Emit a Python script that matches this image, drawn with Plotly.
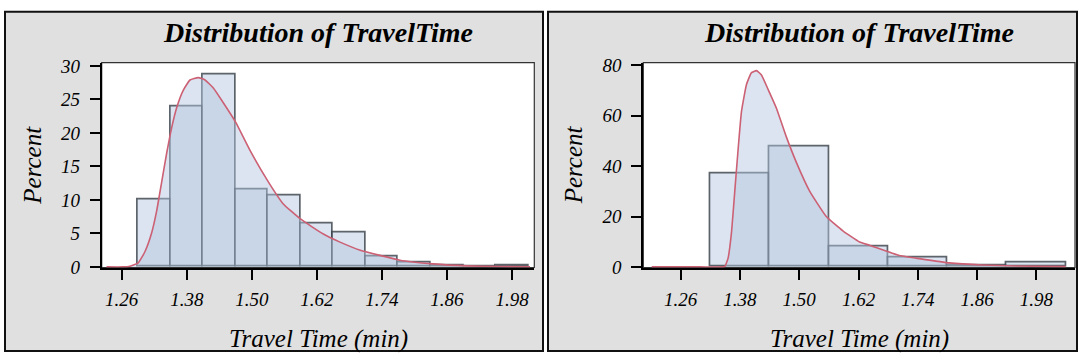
import plotly.graph_objects as go

W, H = 1080, 363

# ---------------- data ----------------
left_bin_centers = [1.32, 1.38, 1.44, 1.50, 1.56, 1.62, 1.68, 1.74, 1.80, 1.86, 1.92, 1.98]
left_percent = [10.0, 23.9, 28.7, 11.6, 10.6, 6.5, 5.1, 1.6, 0.62, 0.25, 0.0, 0.2]
left_bin_width = 0.06

left_curve_x = [1.232, 1.262, 1.275, 1.2906, 1.303, 1.3153, 1.3246, 1.3338, 1.343, 1.3522, 1.3615,
                1.3737, 1.386, 1.4013, 1.4137, 1.429, 1.4474, 1.4709, 1.4967, 1.5305, 1.5581,
                1.589, 1.632, 1.6627, 1.700, 1.7734, 1.8349, 1.8964, 1.9578, 2.0132]
left_curve_y = [0, 0, 0.1, 0.6, 2.3, 5.1, 8.4, 12.7, 17.0, 20.8, 23.8,
                26.4, 27.9, 28.25, 27.9, 26.7, 24.5, 21.5, 17.4, 12.7, 9.4,
                7.2, 4.9, 3.7, 2.5, 1.0, 0.45, 0.15, 0.05, 0.03]

right_bin_centers = [1.38, 1.50, 1.62, 1.74, 1.86, 1.98]
right_percent = [37.2, 47.8, 8.1, 3.9, 0.5, 1.7]
right_bin_width = 0.12

right_curve_x = [1.2014, 1.30, 1.345, 1.3494, 1.3561, 1.363, 1.3696, 1.3763, 1.3832, 1.3933, 1.4034, 1.4135,
                 1.4236, 1.4369, 1.4539, 1.474, 1.4942, 1.5211, 1.5548, 1.5884, 1.622, 1.6422,
                 1.7028, 1.7364, 1.8037, 1.871, 1.9384, 2.0393]
right_curve_y = [0, 0, 0, 0.1, 3.5, 13.7, 30, 46.5, 61.7, 72.4, 77.1, 77.9,
                 76.2, 70.5, 63, 51.6, 41.5, 30.1, 20, 14.3, 9.9, 8.6,
                 4.5, 3.5, 1.6, 0.76, 0.38, 0.13]

x_tick_vals = [1.26, 1.38, 1.50, 1.62, 1.74, 1.86, 1.98]
x_tick_text = ["1.26", "1.38", "1.50", "1.62", "1.74", "1.86", "1.98"]
left_y_ticks = [0, 5, 10, 15, 20, 25, 30]
right_y_ticks = [0, 20, 40, 60, 80]

title_text = "Distribution of TravelTime"
x_title = "Travel Time (min)"
y_title = "Percent"

# ---------------- style ----------------
SERIF = "Liberation Serif"
FILL = "rgba(178,198,223,0.47)"
BAR_LINE = "rgba(55,62,70,0.8)"
CURVE = "rgb(204,96,116)"
PANEL_BG = "#e0e0e0"

def px_x(p):
    return p / W

def px_y(p):
    return 1 - p / H

L_AREA = (101.7, 534.3, 58.3, 273.3)
R_AREA = (643.3, 1075.0, 58.3, 273.3)
L_PANEL = (5, 543, 5, 361)
R_PANEL = (548, 1077, 5, 361)

fig = go.Figure()

def add_panel(xaxis, yaxis, centers, pct, bw, cx, cy):
    fig.add_trace(go.Scatter(x=cx, y=cy, mode="lines", fill="tozeroy", fillcolor=FILL,
                             line=dict(width=0, color="rgba(0,0,0,0)", shape="spline", smoothing=0.4),
                             xaxis=xaxis, yaxis=yaxis, hoverinfo="skip", showlegend=False))
    fig.add_trace(go.Bar(x=centers, y=pct, width=[bw] * len(centers),
                         marker=dict(color=FILL, line=dict(color=BAR_LINE, width=1.7)),
                         xaxis=xaxis, yaxis=yaxis, showlegend=False))
    fig.add_trace(go.Scatter(x=cx, y=cy, mode="lines",
                             line=dict(width=1.6, color=CURVE, shape="spline", smoothing=0.4),
                             xaxis=xaxis, yaxis=yaxis, hoverinfo="skip", showlegend=False))

add_panel("x", "y", left_bin_centers, left_percent, left_bin_width, left_curve_x, left_curve_y)
add_panel("x2", "y2", right_bin_centers, right_percent, right_bin_width, right_curve_x, right_curve_y)

tickfont = dict(family=SERIF, size=19, color="black", style="italic")

def xaxis_cfg(area, rng):
    return dict(domain=[px_x(area[0]), px_x(area[1])], range=rng, showgrid=False, zeroline=False,
                tickvals=x_tick_vals, ticktext=x_tick_text, ticks="outside", ticklen=10,
                tickwidth=2, tickcolor="black", showline=True, linecolor="black", linewidth=2,
                tickfont=tickfont, ticklabelstandoff=4, layer="below traces", fixedrange=True)

def yaxis_cfg(area, rng, ticks, anchor):
    return dict(domain=[px_y(area[3]), px_y(area[2])], range=rng, showgrid=False, zeroline=False,
                tickvals=ticks, ticks="outside", ticklen=10, tickwidth=2, tickcolor="black",
                showline=True, linecolor="black", linewidth=2, tickfont=tickfont,
                ticklabelstandoff=6, anchor=anchor, layer="below traces", fixedrange=True)

fig.update_layout(
    width=W, height=H, margin=dict(l=0, r=0, t=0, b=0),
    paper_bgcolor="white", plot_bgcolor="rgba(0,0,0,0)",
    barmode="overlay", bargap=0,
    font=dict(family=SERIF),
    xaxis=dict(xaxis_cfg(L_AREA, [1.2231, 2.0211]), anchor="y"),
    yaxis=yaxis_cfg(L_AREA, [-0.09, 30.5], left_y_ticks, "x"),
    xaxis2=dict(xaxis_cfg(R_AREA, [1.1845, 2.0581]), anchor="y2"),
    yaxis2=yaxis_cfg(R_AREA, [-0.23, 81.1], right_y_ticks, "x2"),
    showlegend=False,
)

shapes = []
for panel in (L_PANEL, R_PANEL):
    shapes.append(dict(type="rect", xref="paper", yref="paper", layer="below",
                       x0=px_x(panel[0]), x1=px_x(panel[1]), y0=px_y(panel[3]), y1=px_y(panel[2]),
                       fillcolor=PANEL_BG, line=dict(color="#111111", width=2)))
for area in (L_AREA, R_AREA):
    shapes.append(dict(type="rect", xref="paper", yref="paper", layer="below",
                       x0=px_x(area[0]), x1=px_x(area[1]), y0=px_y(area[3]), y1=px_y(area[2]),
                       fillcolor="white", line=dict(color="#333333", width=1.2)))
fig.update_layout(shapes=shapes)

annotations = []
for area in (L_AREA, R_AREA):
    cx = (area[0] + area[1]) / 2
    annotations.append(dict(text="<b><i>%s</i></b>" % title_text, xref="paper", yref="paper",
                            x=px_x(cx), y=px_y(27), xanchor="center", yanchor="middle",
                            showarrow=False, font=dict(family=SERIF, size=28, color="black")))
    annotations.append(dict(text="<i>%s</i>" % x_title, xref="paper", yref="paper",
                            x=px_x(cx), y=px_y(348), xanchor="center", yanchor="middle",
                            showarrow=False, font=dict(family=SERIF, size=25, color="black")))
    annotations.append(dict(text="<i>%s</i>" % y_title, xref="paper", yref="paper",
                            x=px_x(area[0] - 70), y=px_y((area[2] + area[3]) / 2),
                            xanchor="center", yanchor="middle", textangle=-90,
                            showarrow=False, font=dict(family=SERIF, size=25, color="black")))
fig.update_layout(annotations=annotations)

fig.write_html("out.html")
